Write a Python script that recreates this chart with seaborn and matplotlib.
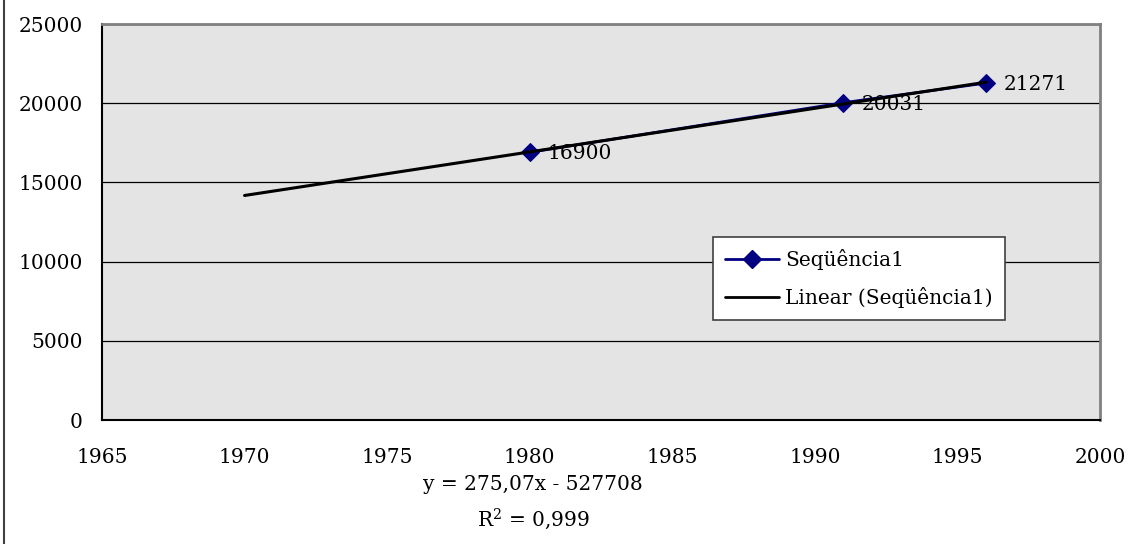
import numpy as np
import pandas as pd
import matplotlib
matplotlib.use('Agg')
import matplotlib.pyplot as plt
from matplotlib.lines import Line2D
import seaborn as sns

# dados
anos = [1980, 1991, 1996]
valores = [16900, 20031, 21271]
ano_inicio_tendencia = 1970
texto_equacao = 'y = 275,07x - 527708'
texto_r2 = 'R$^2$ = 0,999'
nome_serie = 'Seqüência1'
nome_tendencia = 'Linear (Seqüência1)'
x_ticks = [1965, 1970, 1975, 1980, 1985, 1990, 1995, 2000]
y_ticks = [0, 5000, 10000, 15000, 20000, 25000]

sns.set_style('white')
plt.rcParams['font.family'] = ['DejaVu Serif']
plt.rcParams['mathtext.fontset'] = 'dejavuserif'
plt.rcParams['text.color'] = 'black'
plt.rcParams['xtick.color'] = 'black'
plt.rcParams['ytick.color'] = 'black'
FS = 14.5

df = pd.DataFrame({'ano': anos, 'valor': valores})

# linha de tendência (regressão linear, projetada para trás)
coef = np.polyfit(anos, valores, 1)
x_tend = np.array([ano_inicio_tendencia, anos[-1]])
df_tend = pd.DataFrame({'ano': x_tend, 'valor': np.polyval(coef, x_tend)})

fig = plt.figure(figsize=(11.36, 5.44), dpi=100)
ax = fig.add_axes([102 / 1136, 1 - 420 / 544, 998 / 1136, 396 / 544])
ax.set_facecolor('#e4e4e4')

sns.lineplot(data=df, x='ano', y='valor', ax=ax, color='#000080', lw=2,
             marker='D', markersize=9, markeredgecolor='#000080', zorder=3)
sns.lineplot(data=df_tend, x='ano', y='valor', ax=ax, color='black', lw=2.2, zorder=4)

for a, v in zip(anos, valores):
    ax.annotate(str(v), (a, v), xytext=(13, -1), textcoords='offset points',
                va='center', ha='left', fontsize=FS, zorder=5)

ax.set_xlim(x_ticks[0], x_ticks[-1])
ax.set_ylim(y_ticks[0], y_ticks[-1])
ax.set_xticks(x_ticks)
ax.set_yticks(y_ticks)
ax.set_xticklabels([str(t) for t in x_ticks], fontsize=FS)
ax.set_yticklabels([str(t) for t in y_ticks], fontsize=FS)
ax.set_xlabel('')
ax.set_ylabel('')
ax.yaxis.grid(True, color='black', lw=0.9)
ax.set_axisbelow(True)
ax.tick_params(axis='both', direction='out', length=6, width=1, color='black', pad=8)
ax.tick_params(axis='x', pad=14)

for lado in ['top', 'right']:
    ax.spines[lado].set_color('#808080')
    ax.spines[lado].set_linewidth(2)
for lado in ['left', 'bottom']:
    ax.spines[lado].set_color('black')
    ax.spines[lado].set_linewidth(1.5)

handles = [Line2D([], [], color='#000080', lw=2, marker='D', markersize=9),
           Line2D([], [], color='black', lw=2)]
leg = ax.legend(handles, [nome_serie, nome_tendencia], loc='upper left',
                bbox_to_anchor=(0.612, 0.462), fontsize=FS, frameon=True,
                fancybox=False, framealpha=1, edgecolor='#404040',
                handlelength=2.7, handletextpad=0.3, labelspacing=0.85,
                borderpad=0.6, borderaxespad=0)
leg.get_frame().set_linewidth(1.2)

# equação da tendência abaixo do gráfico
fig.text(533 / 1136, 1 - 484 / 544, texto_equacao, ha='center', va='center', fontsize=FS)
fig.text(533 / 1136, 1 - 519 / 544, texto_r2, ha='center', va='center', fontsize=FS)

# borda do gráfico (lado esquerdo)
fig.add_artist(Line2D([4 / 1136, 4 / 1136], [0, 1], color='#404040', lw=1.5))

fig.savefig('out.png', dpi=100)
